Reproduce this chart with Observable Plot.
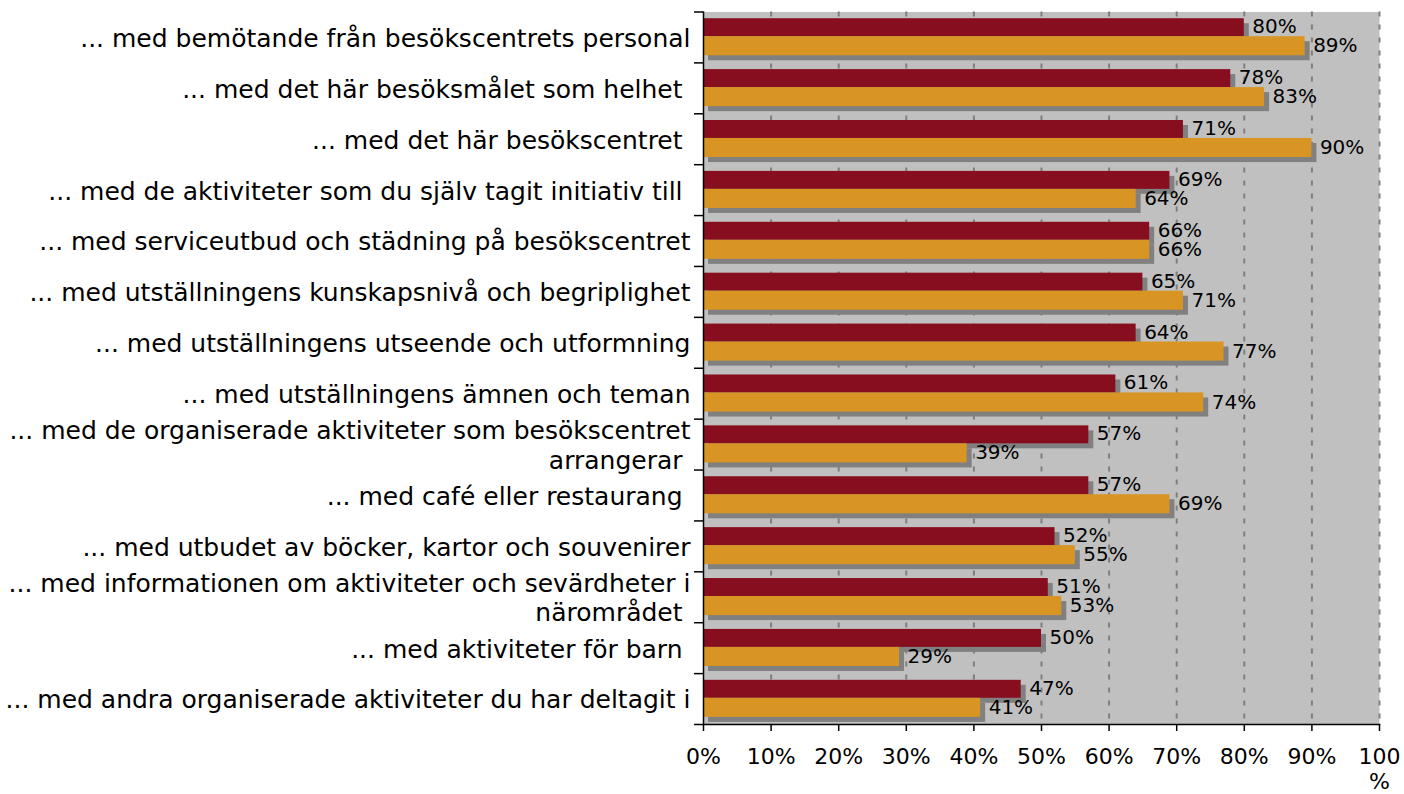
<!DOCTYPE html>
<html>
<head>
<meta charset="utf-8">
<script src="https://cdn.jsdelivr.net/npm/d3@7"></script>
<script src="https://cdn.jsdelivr.net/npm/@observablehq/plot@0.6"></script>
<style>
  html, body { margin: 0; padding: 0; background: #fff; }
  #chart svg { display: block; }
</style>
</head>
<body>
<div id="chart"></div>
<script>
const categories = [
  "... med bemötande från besökscentrets personal",
  "... med det här besöksmålet som helhet\u00a0",
  "... med det här besökscentret\u00a0",
  "... med de aktiviteter som du själv tagit initiativ till\u00a0",
  "... med serviceutbud och städning på besökscentret",
  "... med utställningens kunskapsnivå och begriplighet",
  "... med utställningens utseende och utformning",
  "... med utställningens ämnen och teman",
  "... med de organiserade aktiviteter som besökscentret\narrangerar\u00a0",
  "... med café eller restaurang\u00a0",
  "... med utbudet av böcker, kartor och souvenirer",
  "... med informationen om aktiviteter och sevärdheter i\nnärområdet\u00a0",
  "... med aktiviteter för barn\u00a0",
  "... med andra organiserade aktiviteter du har deltagit i"
];
const serie1 = [80, 78, 71, 69, 66, 65, 64, 61, 57, 57, 52, 51, 50, 47];
const serie2 = [89, 83, 90, 64, 66, 71, 77, 74, 39, 69, 55, 53, 29, 41];
const xTicks = [0, 10, 20, 30, 40, 50, 60, 70, 80, 90, 100];
const xTickLabels = ["0%", "10%", "20%", "30%", "40%", "50%", "60%", "70%", "80%", "90%", "100\n%"];

const colors = {s1: "#870E1F", s2: "#D99524", shadow: "#808080", bg: "#C0C0C0"};

const d1 = categories.map((c, i) => ({category: c, value: serie1[i]}));
const d2 = categories.map((c, i) => ({category: c, value: serie2[i]}));

const width = 1404, height = 794;
const marginTop = 11.5, marginBottom = 70, marginLeft = 703, marginRight = 25;
const bw = (height - marginTop - marginBottom) / categories.length;
// bar placement within each category band
const r1 = {insetTop: bw * 0.132, insetBottom: bw * 0.515};
const r2 = {insetTop: bw * 0.485, insetBottom: bw * 0.14};
const sh = {dx: 5, dy: 5, fill: colors.shadow};

const chart = Plot.plot({
  width, height, marginTop, marginBottom, marginLeft, marginRight,
  style: {fontFamily: "'DejaVu Sans', sans-serif", background: "#fff", color: "#000"},
  x: {domain: [0, 100], axis: null, label: null},
  y: {domain: categories, padding: 0, round: false, axis: null, label: null},
  marks: [
    Plot.frame({fill: colors.bg}),
    Plot.ruleX(xTicks.slice(1), {stroke: "#7f7f7f", strokeWidth: 2, strokeDasharray: "5,8"}),
    // shadows
    Plot.barX(d1, {x: "value", y: "category", ...r1, ...sh}),
    Plot.barX(d2, {x: "value", y: "category", ...r2, ...sh}),
    // bars
    Plot.barX(d1, {x: "value", y: "category", ...r1, fill: colors.s1}),
    Plot.barX(d2, {x: "value", y: "category", ...r2, fill: colors.s2}),
    // value labels
    Plot.text(d1, {x: "value", y: "category", text: d => d.value + "%", textAnchor: "start", dx: 8, dy: -bw * 0.21, fontSize: 20, fill: "#000"}),
    Plot.text(d2, {x: "value", y: "category", text: d => d.value + "%", textAnchor: "start", dx: 8, dy: bw * 0.165, fontSize: 20, fill: "#000"}),
    // category labels
    Plot.text(categories, {y: d => d, text: d => d, frameAnchor: "left", textAnchor: "end", dx: -13, fontSize: 25, lineHeight: 1.17, fill: "#000"}),
    // axis lines
    Plot.frame({anchor: "left", stroke: "#000", strokeWidth: 1.5}),
    Plot.frame({anchor: "bottom", stroke: "#000", strokeWidth: 1.5}),
    // category boundary ticks
    Plot.axisY(categories, {anchor: "left", tickSize: 9, text: null, label: null, dy: -bw / 2, stroke: "#000", strokeWidth: 1.5}),
    Plot.axisY([categories[categories.length - 1]], {anchor: "left", tickSize: 9, text: null, label: null, dy: bw / 2, stroke: "#000", strokeWidth: 1.5}),
    // x axis
    Plot.axisX(xTicks, {anchor: "bottom", tickSize: 7, tickPadding: 15, fontSize: 22, lineHeight: 1.13, label: null,
      tickFormat: d => xTickLabels[xTicks.indexOf(d)], stroke: "#000", strokeWidth: 1.5, fill: "#000"})
  ]
});
document.getElementById("chart").appendChild(chart);
</script>
</body>
</html>
